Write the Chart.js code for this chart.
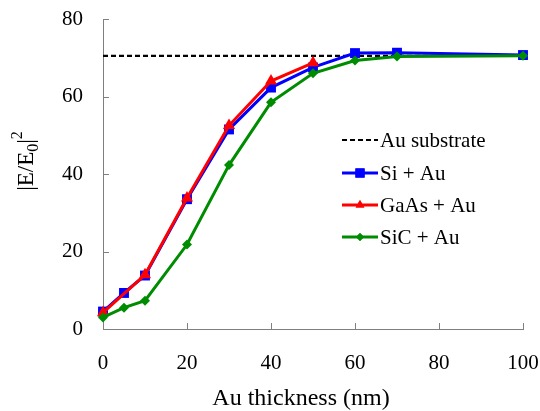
<!DOCTYPE html>
<html>
<head>
<meta charset="utf-8">
<script src="https://cdn.jsdelivr.net/npm/chart.js@4/dist/chart.umd.min.js"></script>
<style>
  html, body { margin: 0; padding: 0; background: #fff; }
  #wrap { width: 540px; height: 411px; }
</style>
</head>
<body>
<div id="wrap"><canvas id="c" width="540" height="411"></canvas></div>
<script>
// Field enhancement |E/E0|^2 versus Au film thickness
const thickness      = [0, 5, 10, 20, 30, 40, 50, 60, 70, 100];
const siAu           = [4.5, 9.3, 13.8, 33.5, 51.5, 62.3, 67.5, 71.2, 71.3, 70.7];
const gaasThickness  = [0, 10, 20, 30, 40, 50];
const gaasAu         = [4.2, 14.0, 33.8, 52.5, 64.0, 68.7];
const sicAu          = [3.0, 5.5, 7.3, 21.8, 42.3, 58.5, 66.0, 69.3, 70.3, 70.5];
const substrateX     = [0, 100];
const substrateLevel = [70.5, 70.5];
const xTicks = [0, 20, 40, 60, 80, 100];
const yTicks = [0, 20, 40, 60, 80];
const seriesNames = ['Au substrate', 'Si \u002B Au', 'GaAs + Au', 'SiC + Au'];

const SERIF = '"Liberation Serif", "Times New Roman", serif';
const AXIS_GREY = '#7f7f7f';

const pts = (xs, ys) => xs.map((x, i) => ({ x, y: ys[i] }));

const datasets = [
  { label: seriesNames[0], data: pts(substrateX, substrateLevel), borderColor: '#000', borderWidth: 2.2,
    borderDash: [5, 3], pointRadius: 0, order: 3, legendRadius: 0 },
  { label: seriesNames[1], data: pts(thickness, siAu), borderColor: '#0000ff', backgroundColor: '#0000ff',
    borderWidth: 3, pointStyle: 'rect', pointRadius: 7, order: 2, legendRadius: 6.5 },
  { label: seriesNames[2], data: pts(gaasThickness, gaasAu), borderColor: '#ff0000', backgroundColor: '#ff0000',
    borderWidth: 3, pointStyle: 'triangle', pointRadius: 7, order: 1, legendRadius: 5 },
  { label: seriesNames[3], data: pts(thickness, sicAu), borderColor: '#008c00', backgroundColor: '#008c00',
    borderWidth: 3, pointStyle: 'rectRot', pointRadius: 5, order: 0, legendRadius: 4 }
];
datasets.forEach(d => { d.clip = false; d.tension = 0; d.pointBorderWidth = 0; d.pointHoverRadius = d.pointRadius; });

// short tick marks pointing into the plot
const insideTicks = {
  id: 'insideTicks',
  beforeDatasetsDraw(chart) {
    const { ctx, scales: { x, y } } = chart;
    ctx.save();
    ctx.strokeStyle = AXIS_GREY;
    ctx.lineWidth = 1;
    xTicks.forEach(v => {
      if (v === x.min) return;
      const px = Math.round(x.getPixelForValue(v)) + 0.5;
      ctx.beginPath(); ctx.moveTo(px, y.bottom); ctx.lineTo(px, y.bottom - 6); ctx.stroke();
    });
    yTicks.forEach(v => {
      if (v === y.min) return;
      const py = Math.round(y.getPixelForValue(v)) + 0.5;
      ctx.beginPath(); ctx.moveTo(x.left, py); ctx.lineTo(x.left + 6, py); ctx.stroke();
    });
    ctx.restore();
  }
};

// axis titles (the y title carries a subscript and a superscript)
const axisTitles = {
  id: 'axisTitles',
  afterDraw(chart) {
    const { ctx } = chart;
    ctx.save();
    ctx.fillStyle = '#000';
    ctx.textBaseline = 'alphabetic';
    ctx.font = '24px ' + SERIF;
    ctx.textAlign = 'center';
    ctx.fillText('Au thickness (nm)', 301, 405);

    ctx.translate(33, 161);
    ctx.rotate(-Math.PI / 2);
    const big = '23px ' + SERIF, small = '16px ' + SERIF;
    const parts = [['|E/E', big, 0], ['0', small, 5], ['|', big, 0], ['2', small, -11]];
    let total = 0;
    parts.forEach(p => { ctx.font = p[1]; total += ctx.measureText(p[0]).width; });
    let cx = -total / 2;
    ctx.textAlign = 'left';
    parts.forEach(p => {
      ctx.font = p[1];
      ctx.fillText(p[0], cx, p[2]);
      cx += ctx.measureText(p[0]).width;
    });
    ctx.restore();
  }
};

// legend placed inside the plot area
const innerLegend = {
  id: 'innerLegend',
  afterDraw(chart) {
    const { ctx } = chart;
    const rows = [140, 173, 205, 237];
    const x0 = 342, x1 = 378;
    ctx.save();
    chart.data.datasets.forEach((d, i) => {
      const yy = rows[i];
      ctx.strokeStyle = d.borderColor;
      ctx.lineWidth = d.borderWidth;
      ctx.setLineDash(d.borderDash || []);
      ctx.beginPath(); ctx.moveTo(x0, yy); ctx.lineTo(x1, yy); ctx.stroke();
      ctx.setLineDash([]);
      if (d.legendRadius) {
        ctx.fillStyle = d.backgroundColor;
        Chart.helpers.drawPoint(ctx, { pointStyle: d.pointStyle, radius: d.legendRadius, borderWidth: 0, rotation: 0 },
          (x0 + x1) / 2, yy);
        ctx.fill();
      }
      ctx.fillStyle = '#000';
      ctx.font = '21px ' + SERIF;
      ctx.textAlign = 'left';
      ctx.textBaseline = 'middle';
      ctx.fillText(d.label, x1 + 2, yy + 1);
    });
    ctx.restore();
  }
};

new Chart(document.getElementById('c'), {
  type: 'line',
  data: { datasets },
  plugins: [insideTicks, axisTitles, innerLegend],
  options: {
    responsive: false,
    animation: false,
    devicePixelRatio: 1,
    layout: { padding: { top: 19, right: 17, left: 0, bottom: 0 } },
    plugins: { legend: { display: false }, tooltip: { enabled: false } },
    scales: {
      x: {
        type: 'linear', min: 0, max: 100,
        afterBuildTicks: s => { s.ticks = xTicks.map(v => ({ value: v })); },
        afterFit: s => { s.height = 82; s.paddingLeft = 0; s.paddingRight = 0; },
        grid: { display: false, drawTicks: false },
        border: { display: true, color: AXIS_GREY, width: 1 },
        ticks: { color: '#000', font: { family: SERIF, size: 21 }, padding: 22, maxRotation: 0 }
      },
      y: {
        min: 0, max: 80,
        afterBuildTicks: s => { s.ticks = yTicks.map(v => ({ value: v })); },
        afterFit: s => { s.width = 103; s.paddingTop = 0; s.paddingBottom = 0; },
        grid: { display: false, drawTicks: false },
        border: { display: true, color: AXIS_GREY, width: 1 },
        ticks: { color: '#000', font: { family: SERIF, size: 21 }, padding: 20 }
      }
    }
  }
});
</script>
</body>
</html>
